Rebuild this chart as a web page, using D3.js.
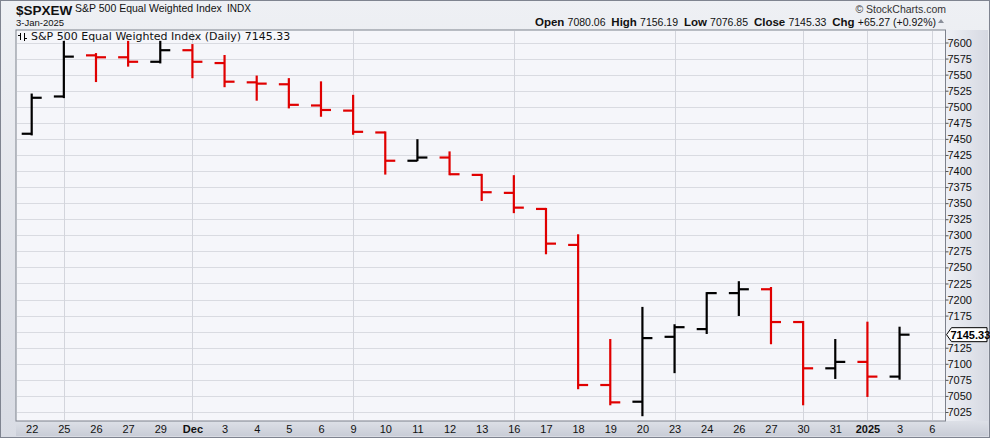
<!DOCTYPE html>
<html><head><meta charset="utf-8">
<script src="https://cdn.jsdelivr.net/npm/d3@7"></script>
<style>
body{margin:0;padding:0;background:#fff;}
svg{display:block;font-family:"Liberation Sans",Arial,sans-serif;}
</style></head>
<body>
<svg id="chart" width="990" height="438"></svg>
<script>
// ---- data ----
const dates = ["2024-11-22","2024-11-25","2024-11-26","2024-11-27","2024-11-29","2024-12-02","2024-12-03","2024-12-04","2024-12-05","2024-12-06","2024-12-09","2024-12-10","2024-12-11","2024-12-12","2024-12-13","2024-12-16","2024-12-17","2024-12-18","2024-12-19","2024-12-20","2024-12-23","2024-12-24","2024-12-26","2024-12-27","2024-12-30","2024-12-31","2025-01-02","2025-01-03"];
const opens  = [7458,7516,7580,7577,7570,7588,7568,7538,7535,7502,7494,7460,7416,7421,7394,7366,7341,7285,7067,7041,7142,7154,7210,7216,7165,7093,7103,7080.06];
const highs  = [7519,7601,7582,7601,7601,7596,7579,7547,7543,7538,7517,7460,7448,7429,7394,7392,7341,7300,7137,7187,7160,7210,7227,7218,7165,7137,7164,7156.19];
const lows   = [7457,7515,7540,7564,7569,7546,7532,7511,7499,7486,7458,7396,7417,7395,7355,7336,7272,7062,7037,7020,7087,7148,7176,7132,7037,7078,7050,7076.85];
const closes = [7514,7578,7577,7570,7588,7570,7539,7536,7503,7495,7461,7416,7421,7395,7367,7343,7287,7067,7040,7140,7157,7210,7216,7165,7093,7103,7080.06,7145.33];
const slotKeys = dates.concat(["2025-01-06"]);
const xTickLabels = ["22","25","26","27","29","Dec","3","4","5","6","9","10","11","12","13","16","17","18","19","20","23","24","26","27","30","31","2025","3","6"];
const boldLabels = ["Dec","2025"];
const weekGridKeys = ["2024-11-25","2024-12-02","2024-12-09","2024-12-16","2024-12-23","2024-12-30","2025-01-02","2025-01-06"];
const yTicks = [7025,7050,7075,7100,7125,7175,7200,7225,7250,7275,7300,7325,7350,7375,7400,7425,7450,7475,7500,7525,7550,7575,7600];
const yGrid = d3.range(7025, 7601, 25);
const lastClose = 7145.33;

// ---- layout ----
const svg = d3.select("#chart");
const W = 990, H = 438;
const plot = {l:16, t:30, r:945.5, b:421};

const defs = svg.append("defs");
const g1 = defs.append("linearGradient").attr("id","bg").attr("x1",0).attr("y1",0).attr("x2",0).attr("y2",1);
g1.append("stop").attr("offset","0%").attr("stop-color","#eef0f4");
g1.append("stop").attr("offset","100%").attr("stop-color","#d9dce4");
const g2 = defs.append("linearGradient").attr("id","rax").attr("x1",0).attr("y1",0).attr("x2",1).attr("y2",0);
g2.append("stop").attr("offset","0%").attr("stop-color","#eef0f5");
g2.append("stop").attr("offset","100%").attr("stop-color","#d6d9e2");
const g3 = defs.append("linearGradient").attr("id","bax").attr("x1",0).attr("y1",0).attr("x2",0).attr("y2",1);
g3.append("stop").attr("offset","0%").attr("stop-color","#dde0e7");
g3.append("stop").attr("offset","100%").attr("stop-color","#c9cdd7");

svg.append("rect").attr("x",0).attr("y",0).attr("width",W).attr("height",H).attr("fill","url(#bg)");
svg.append("rect").attr("x",plot.r).attr("y",plot.t).attr("width",W-plot.r-2).attr("height",plot.b-plot.t).attr("fill","url(#rax)");
svg.append("rect").attr("x",plot.l).attr("y",plot.b).attr("width",W-plot.l-2).attr("height",H-plot.b-2).attr("fill","url(#bax)");
svg.append("rect").attr("x",0.5).attr("y",0.5).attr("width",W-1).attr("height",H-1).attr("fill","none").attr("stroke","#7f8490");

// plot background
svg.append("rect").attr("x",plot.l).attr("y",plot.t).attr("width",plot.r-plot.l).attr("height",plot.b-plot.t)
  .attr("fill","#f5f6fa").attr("stroke","#7d818c").attr("stroke-width",1);

// scales
const x = d3.scalePoint().domain(slotKeys).range([31.7, 931.7]);
const y = d3.scaleLinear().domain([7025, 7600]).range([412, 42.5]);

// grid
svg.append("g").selectAll("line").data(yGrid).join("line")
  .attr("x1",plot.l+1).attr("x2",plot.r-1)
  .attr("y1",d=>Math.round(y(d))+0.5).attr("y2",d=>Math.round(y(d))+0.5)
  .attr("stroke","#d9dbe1").attr("stroke-width",1);
svg.append("g").selectAll("line").data(weekGridKeys).join("line")
  .attr("x1",d=>Math.round(x(d))+0.5).attr("x2",d=>Math.round(x(d))+0.5)
  .attr("y1",plot.t+1).attr("y2",plot.b-1)
  .attr("stroke","#d3d5dc").attr("stroke-width",1);

// right axis
const yAxis = d3.axisRight(y).tickValues(yTicks).tickSize(3).tickFormat(d3.format("d"));
const ya = svg.append("g").attr("transform",`translate(${plot.r},0)`).call(yAxis);
ya.select(".domain").remove();
ya.selectAll(".tick line").attr("stroke","#555");
ya.selectAll(".tick text").attr("x",2).attr("font-size",11).attr("fill","#111")
  .attr("font-family","'Liberation Sans',Arial,sans-serif");

// bottom axis
const xAxis = d3.axisBottom(x).tickSize(0).tickFormat((d,i)=>xTickLabels[i]);
const xa = svg.append("g").attr("transform",`translate(0,${plot.b})`).call(xAxis);
xa.select(".domain").remove();
xa.selectAll(".tick text").attr("dy","0.3em").attr("y",9).attr("font-size",11).attr("fill","#111")
  .attr("font-family","'Liberation Sans',Arial,sans-serif")
  .attr("font-weight",(d,i)=>boldLabels.includes(xTickLabels[i])?"bold":"normal");

// OHLC bars
const bars = dates.map((d,i)=>({d, o:opens[i], h:highs[i], l:lows[i], c:closes[i]}));
const color = b => b.c >= b.o ? "#000000" : "#e00000";
const bg = svg.append("g").attr("stroke-width",2.2);
bg.selectAll("line.v").data(bars).join("line").attr("class","v")
  .attr("x1",b=>x(b.d)).attr("x2",b=>x(b.d))
  .attr("y1",b=>y(b.h)-1).attr("y2",b=>y(b.l)+1).attr("stroke",color);
bg.selectAll("line.o").data(bars).join("line").attr("class","o")
  .attr("x1",b=>x(b.d)-10).attr("x2",b=>x(b.d))
  .attr("y1",b=>y(b.o)).attr("y2",b=>y(b.o)).attr("stroke",color);
bg.selectAll("line.c").data(bars).join("line").attr("class","c")
  .attr("x1",b=>x(b.d)).attr("x2",b=>x(b.d)+10)
  .attr("y1",b=>y(b.c)).attr("y2",b=>y(b.c)).attr("stroke",color);

// last price tag
const ly = y(lastClose);
const tag = svg.append("g");
tag.append("path").attr("d",`M${plot.r+1},${ly} L${plot.r+6},${ly-7} L${W-3},${ly-7} L${W-3},${ly+7} L${plot.r+6},${ly+7} Z`)
  .attr("fill","#fff").attr("stroke","#000").attr("stroke-width",1);
tag.append("text").attr("x",plot.r+5).attr("y",ly+4).attr("font-size",11).attr("font-weight","bold")
  .attr("fill","#000").text(lastClose.toFixed(2));

// in-plot title
const tg = svg.append("g");
const ic = tg.append("g").attr("stroke","#000").attr("stroke-width",1);
ic.append("line").attr("x1",20.5).attr("x2",20.5).attr("y1",33).attr("y2",40);
ic.append("line").attr("x1",18).attr("x2",20.5).attr("y1",35.5).attr("y2",35.5);
ic.append("line").attr("x1",24.5).attr("x2",24.5).attr("y1",33).attr("y2",41);
ic.append("line").attr("x1",24.5).attr("x2",27).attr("y1",38.5).attr("y2",38.5);
tg.append("text").attr("x",31).attr("y",40).attr("font-size",11).attr("font-family","'DejaVu Sans',Verdana,sans-serif")
  .attr("fill","#111").text("S&P 500 Equal Weighted Index (Daily) 7145.33");

// header
svg.append("text").attr("x",16).attr("y",15).attr("font-size",13.5).attr("font-weight","bold").attr("fill","#111")
  .attr("font-family","'Liberation Sans',Arial,sans-serif").text("$SPXEW");
svg.append("text").attr("x",75).attr("y",12).attr("font-size",10.5).attr("fill","#111")
  .text("S&P 500 Equal Weighted Index");
svg.append("text").attr("x",227).attr("y",12).attr("font-size",10).attr("fill","#111").text("INDX");
svg.append("text").attr("x",16).attr("y",26).attr("font-size",9.5).attr("fill","#111").text("3-Jan-2025");

svg.append("text").attr("x",946).attr("y",13).attr("text-anchor","end").attr("font-size",10.5).attr("fill","#333")
  .text("\u00A9 StockCharts.com");

const hdr = svg.append("text").attr("x",936).attr("y",26).attr("text-anchor","end").attr("font-size",10.5).attr("fill","#111");
const parts = [["Open ",true],["7080.06  ",false],["High ",true],["7156.19  ",false],["Low ",true],["7076.85  ",false],["Close ",true],["7145.33  ",false],["Chg ",true],["+65.27 (+0.92%)",false]];
parts.forEach(p=>hdr.append("tspan").attr("font-weight",p[1]?"bold":"normal").attr("font-size",p[1]?11.5:10.5).attr("xml:space","preserve").text(p[0]));
svg.append("path").attr("d","M938,23 L944,23 L941,19 Z").attr("fill","#8a8f9a");
</script>
</body></html>
